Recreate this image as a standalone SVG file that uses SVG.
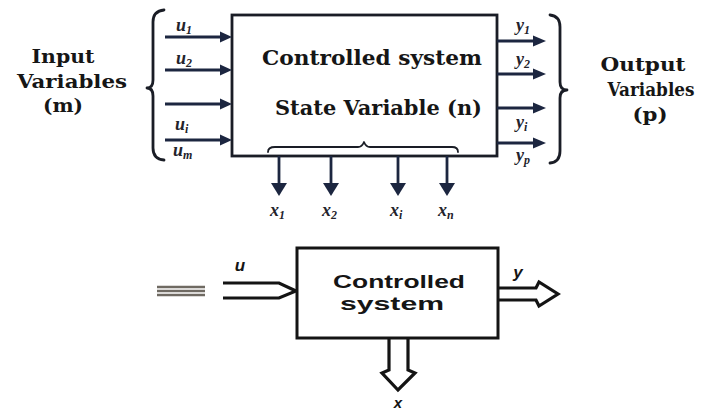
<svg xmlns="http://www.w3.org/2000/svg" width="712" height="410" viewBox="0 0 712 410">
<style>
.box{fill:#fff;stroke:#1a1d26;stroke-width:2.8}
.box2{fill:#fff;stroke:#141414;stroke-width:3}
.ln{stroke:#1c2640;stroke-width:2.8;fill:none}
.hd{fill:#1c2640}
.br{fill:none;stroke:#1a1d26;stroke-width:2.8;stroke-linejoin:round;stroke-linecap:round}
.dbl{fill:none;stroke:#141414;stroke-width:3.2;stroke-linejoin:miter}
.serif{font-family:"DejaVu Serif","Liberation Serif",serif;fill:#161616;font-weight:bold}
.lab{font-family:"Liberation Serif","DejaVu Serif",serif;font-style:italic;font-weight:bold;fill:#23232b;font-size:18px}
.sub{font-size:12px}
.sans{font-family:"Liberation Sans",Arial,sans-serif;font-weight:bold;fill:#151515}
</style>
<rect width="712" height="410" fill="#fff"/>

<g id="input-label">
<text class="serif" x="63" y="63" font-size="19" text-anchor="middle" textLength="63" lengthAdjust="spacingAndGlyphs">Input</text>
<text class="serif" x="72" y="88" font-size="19" text-anchor="middle" textLength="110" lengthAdjust="spacingAndGlyphs">Variables</text>
<text class="serif" x="63" y="112" font-size="19" text-anchor="middle" textLength="40" lengthAdjust="spacingAndGlyphs">(m)</text>
</g>

<g id="output-label">
<text class="serif" x="643" y="71" font-size="19" text-anchor="middle" textLength="85" lengthAdjust="spacingAndGlyphs">Output</text>
<text class="serif" x="651" y="96" font-size="19" text-anchor="middle" textLength="87" lengthAdjust="spacingAndGlyphs">Variables</text>
<text class="serif" x="650" y="121" font-size="19" text-anchor="middle" textLength="35" lengthAdjust="spacingAndGlyphs">(p)</text>
</g>

<g id="controlled-system">
<rect class="box" x="232" y="15" width="265" height="141"/>
<text class="serif" x="262" y="65" font-size="21" textLength="220" lengthAdjust="spacingAndGlyphs">Controlled system</text>
<text class="serif" x="275" y="115" font-size="21" textLength="207" lengthAdjust="spacingAndGlyphs">State Variable (n)</text>
<path class="br" style="stroke-width:1.8" d="M268,152 Q268,147 275,147 H358 Q362,147 364,142 Q366,147 370,147 H452 Q458,147 458,152"/>
</g>

<g id="input-brace">
<path class="br" d="M164,10 Q153,11 153,22 V80 Q153,88 147,88 Q153,88 153,96 V148 Q153,159 164,160"/>
</g>

<g id="output-brace">
<path class="br" d="M550,15 Q560,16 560,27 V82 Q560,90 567,90 Q560,90 560,98 V151 Q560,162 550,163"/>
</g>

<g id="connectors">
<g id="inputs">
<line class="ln" x1="165" y1="37" x2="223" y2="37"/><polygon class="hd" points="220,31.5 232,37 220,42.5"/>
<line class="ln" x1="165" y1="70" x2="223" y2="70"/><polygon class="hd" points="220,64.5 232,70 220,75.5"/>
<line class="ln" x1="165" y1="104" x2="223" y2="104"/><polygon class="hd" points="220,98.5 232,104 220,109.5"/>
<line class="ln" x1="165" y1="140" x2="223" y2="140"/><polygon class="hd" points="220,134.5 232,140 220,145.5"/>
</g>
<g id="outputs">
<line class="ln" x1="497" y1="41" x2="536" y2="41"/><polygon class="hd" points="533,35.5 546,41 533,46.5"/>
<line class="ln" x1="497" y1="74" x2="536" y2="74"/><polygon class="hd" points="533,68.5 546,74 533,79.5"/>
<line class="ln" x1="497" y1="108" x2="536" y2="108"/><polygon class="hd" points="533,102.5 546,108 533,113.5"/>
<line class="ln" x1="497" y1="143" x2="536" y2="143"/><polygon class="hd" points="533,137.5 546,143 533,148.5"/>
</g>
<g id="states">
<line class="ln" x1="279" y1="156" x2="279" y2="186"/><polygon class="hd" points="271,183 287,183 279,196"/>
<line class="ln" x1="331" y1="156" x2="331" y2="186"/><polygon class="hd" points="323,183 339,183 331,196"/>
<line class="ln" x1="398" y1="156" x2="398" y2="186"/><polygon class="hd" points="390,183 406,183 398,196"/>
<line class="ln" x1="447" y1="156" x2="447" y2="186"/><polygon class="hd" points="439,183 455,183 447,196"/>
</g>
<path id="u-arrow" class="dbl" d="M223,283 H279 L296,291 L279,298 H223"/>
<path id="y-arrow" class="dbl" d="M497,288 H536 L539,282 L558,294 L539,306 L536,300 H497"/>
<path id="x-arrow" class="dbl" d="M389,338 V370 L382,373 L398,390 L415,373 L408,370 V338"/>
</g>

<g id="labels">
<text class="lab" x="176" y="31">u<tspan class="sub" dy="3">1</tspan></text>
<text class="lab" x="176" y="64">u<tspan class="sub" dy="3">2</tspan></text>
<text class="lab" x="175" y="130">u<tspan class="sub" dy="3">i</tspan></text>
<text class="lab" x="173" y="156">u<tspan class="sub" dy="3">m</tspan></text>
<text class="lab" x="516" y="31">y<tspan class="sub" dy="3">1</tspan></text>
<text class="lab" x="516" y="65">y<tspan class="sub" dy="3">2</tspan></text>
<text class="lab" x="516" y="128">y<tspan class="sub" dy="3">i</tspan></text>
<text class="lab" x="516" y="161">y<tspan class="sub" dy="3">p</tspan></text>
<text class="lab" x="270" y="216">x<tspan class="sub" dy="3">1</tspan></text>
<text class="lab" x="322" y="216">x<tspan class="sub" dy="3">2</tspan></text>
<text class="lab" x="390" y="216">x<tspan class="sub" dy="3">i</tspan></text>
<text class="lab" x="438" y="216">x<tspan class="sub" dy="3">n</tspan></text>
</g>

<g id="equivalent">
<line x1="157" y1="287" x2="205" y2="287" stroke="#6f6a62" stroke-width="2.4"/>
<line x1="157" y1="291" x2="205" y2="291" stroke="#6f6a62" stroke-width="2.4"/>
<line x1="157" y1="295" x2="205" y2="295" stroke="#6f6a62" stroke-width="2.4"/>
</g>

<g id="controlled-system-compact">
<rect class="box2" x="297" y="248" width="201" height="90"/>
<text class="sans" x="333" y="288" font-size="19" textLength="132" lengthAdjust="spacingAndGlyphs">Controlled</text>
<text class="sans" x="340" y="310" font-size="19" textLength="104" lengthAdjust="spacingAndGlyphs">system</text>
</g>

<g id="compact-labels">
<text class="sans" x="240" y="271" font-size="17" font-style="italic" text-anchor="middle">u</text>
<text class="sans" x="518" y="278" font-size="17" font-style="italic" text-anchor="middle">y</text>
<text class="sans" x="398" y="408" font-size="15" font-style="italic" text-anchor="middle">x</text>
</g>
</svg>
